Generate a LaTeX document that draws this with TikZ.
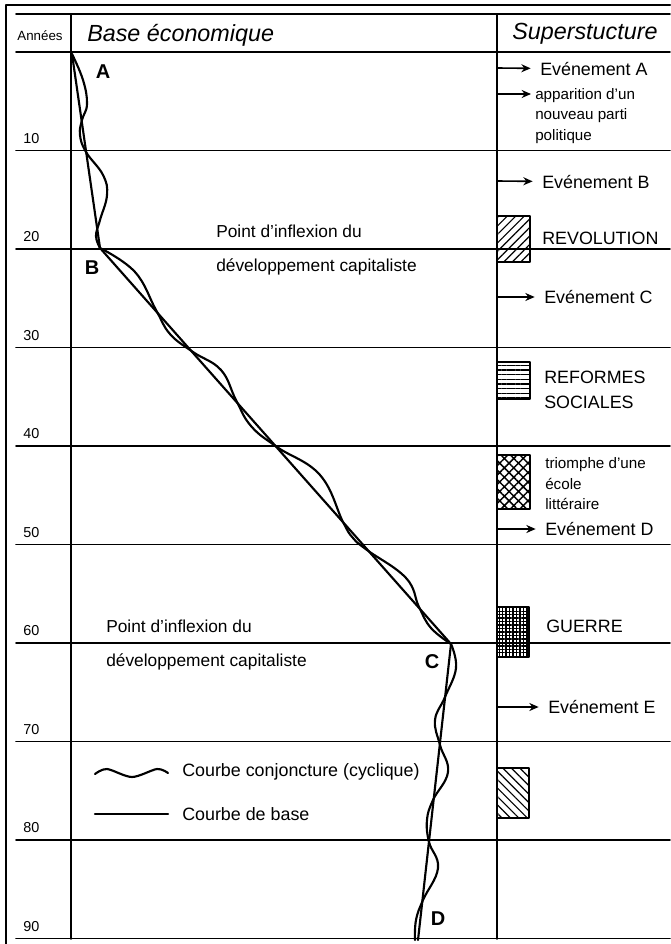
\documentclass[tikz,border=0pt]{standalone}
\usepackage{fontspec}
\setmainfont{Liberation Sans}
\usepackage{tikz}
\usetikzlibrary{arrows.meta}
\usetikzlibrary{patterns.meta}

\tikzset{
  gridline/.style={line width=1.3pt},
  framerule/.style={line width=1.7pt},
  basecurve/.style={line width=1.6pt},
  wavecurve/.style={line width=1.6pt},
  headtxt/.style={font=\fontsize{17.5}{20}\selectfont\itshape, anchor=west, inner sep=0pt},
  yearlbl/.style={font=\fontsize{10.8}{12}\selectfont, anchor=west, inner sep=0pt},
  evtxt/.style={font=\fontsize{13.4}{18.8}\selectfont, anchor=west, align=left, inner sep=0pt},
  smalltxt/.style={font=\fontsize{11.4}{15.4}\selectfont, anchor=west, align=left, inner sep=0pt},
  notetxt/.style={font=\fontsize{13}{25.5}\selectfont, anchor=west, align=left, inner sep=0pt},
  ptlbl/.style={font=\fontsize{15}{15}\selectfont\bfseries, inner sep=0pt},
  evarrow/.style={line width=1.2pt, -{Stealth[length=7pt,width=6pt]}, shorten >=7pt},
  patbox/.style={draw, line width=1.1pt},
}

\begin{document}
\begin{tikzpicture}[x=0.75pt, y=-0.75pt, line cap=round, line join=round]
	\useasboundingbox (0,0) rectangle (670,944);
	% frame and table
	\draw[framerule] (6,944) -- (6,5) -- (670,5);
	\draw[gridline] (16,14) -- (670,14);
	\draw[gridline] (16,52) -- (670,52);
	\draw[gridline] (71,14) -- (71,939);
	\draw[gridline] (497,14) -- (497,939);
	\foreach \i in {1,...,9}{
		\pgfmathsetmacro\yy{52+98.5*\i}
		\pgfmathtruncatemacro\yr{10*\i}
		\draw[gridline] (16,\yy) -- (670,\yy);
		\node[yearlbl] (yr\i) at (23,\yy-12) {\yr};
	}
	% header
	\node[font=\fontsize{10}{12}\selectfont, inner sep=0pt] (annees) at (40,36) {Années};
	\node[headtxt] (base) at (87,35) {Base économique};
	\node[headtxt] (super) at (512,34) {Superstucture};
	% base curve
	\coordinate (ptA) at (72,54);
	\coordinate (ptB) at (100,248);
	\coordinate (ptC) at (451,644);
	\coordinate (ptD) at (418,940);
	\draw[basecurve] (ptA) -- (ptB) -- (ptC) -- (ptD);
	% cyclic curve
	\draw[wavecurve] plot[smooth, tension=0.7] coordinates {(ptA) (83,80) (87,104) (82,120) (80,135) (86,152) (103,175) (107,195) (100,220) (96,236) (ptB)};
	\draw[wavecurve] plot[smooth, tension=0.7] coordinates {(ptB) (135,272) (156,310) (170,334) (193,352) (221,370) (236,400) (251,426) (277,447) (320,475) (343,522) (353,538) (367,550) (406,578) (419,607) (431,628) (ptC)};
	\draw[wavecurve] plot[smooth, tension=0.7] coordinates {(ptC) (456,668) (445,697) (435,720) (440,745) (448,772) (433,800) (427,820) (429,842) (438,868) (423,900) (416,920) (415,940)};
	\node[ptlbl] (lblA) at (103,72) {A};
	\node[ptlbl] (lblB) at (92,268) {B};
	\node[ptlbl] (lblC) at (432,662) {C};
	\node[ptlbl] (lblD) at (438,919) {D};
	% notes
	\node[notetxt] (inflB) at (216,250) {Point d'inflexion du\\développement capitaliste};
	\node[notetxt] (inflC) at (106,645) {Point d'inflexion du\\développement capitaliste};
	% legend
	\draw[wavecurve] plot[smooth] coordinates {(95,774) (107,769) (132,777) (157,769) (168,773)};
	\node[evtxt] (lgWave) at (182,772) {Courbe conjoncture (cyclique)};
	\draw[basecurve] (95,814) -- (168,814);
	\node[evtxt] (lgBase) at (182,814) {Courbe de base};
	% superstructure
	\coordinate (aA) at (497,68);
	\coordinate (aApp) at (497,94);
	\coordinate (aB) at (497,181);
	\coordinate (aC) at (497,297);
	\coordinate (aD) at (497,529);
	\coordinate (aE) at (497,707);
	\node[evtxt] (evA) at (540,69) {Evénement A};
	\node[smalltxt, anchor=north west] (app) at (535,88) {apparition d'un\\nouveau parti\\politique};
	\node[evtxt] (evB) at (542,182) {Evénement B};
	\node[evtxt] (revo) at (542,238) {REVOLUTION};
	\node[evtxt] (evC) at (544,297) {Evénement C};
	\node[evtxt] (refo) at (544,390) {REFORMES\\SOCIALES};
	\node[smalltxt] (trio) at (545,484) {triomphe d'une\\école\\littéraire};
	\node[evtxt] (evD) at (545,529) {Evénement D};
	\node[evtxt] (guer) at (546,626) {GUERRE};
	\node[evtxt] (evE) at (548,707) {Evénement E};
	\draw[evarrow] (aA) -- (evA);
	\draw[evarrow, shorten >=3pt] (aApp) -- (aApp -| app.west);
	\draw[evarrow] (aB) -- (evB);
	\draw[evarrow] (aC) -- (evC);
	\draw[evarrow] (aD) -- (evD);
	\draw[evarrow] (aE) -- (evE);
	% pattern boxes
	\draw[patbox, pattern={Lines[angle=45, distance=4.5pt, line width=0.9pt]}] (497,216) rectangle (530,262);
	\draw[patbox, pattern={Lines[angle=0, distance=3.5pt, line width=0.9pt]}] (497,362) rectangle (530,399);
	\draw[patbox, pattern={Hatch[angle=45, distance=5pt, line width=1.1pt]}] (497,455) rectangle (530,509);
	\draw[patbox, pattern={Hatch[angle=0, distance=2.6pt, line width=1pt]}] (497,607) rectangle (529,657);
	\draw[patbox, pattern={Lines[angle=-45, distance=4.5pt, line width=0.9pt]}] (497,768) rectangle (529,818);
\end{tikzpicture}
\end{document}
